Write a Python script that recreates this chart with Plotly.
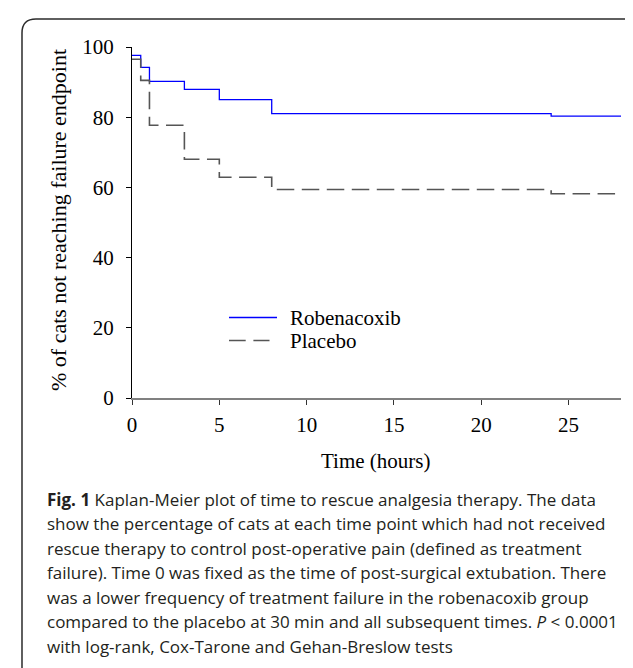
import plotly.graph_objects as go

# ---- data ----
time_h = [0, 0.5, 1, 3, 5, 8, 24, 28]
robenacoxib = [97.6, 94.2, 90.2, 87.9, 85.0, 81.0, 80.3, 80.3]
placebo = [96.5, 90.5, 77.7, 68.0, 62.9, 59.4, 58.2, 58.2]
x_ticks = [0, 5, 10, 15, 20, 25]
y_ticks = [0, 20, 40, 60, 80, 100]
series_names = ["Robenacoxib", "Placebo"]

caption_lines = [
    "<b>Fig. 1</b> Kaplan-Meier plot of time to rescue analgesia therapy. The data",
    "show the percentage of cats at each time point which had not received",
    "rescue therapy to control post-operative pain (defined as treatment",
    "failure). Time 0 was fixed as the time of post-surgical extubation. There",
    "was a lower frequency of treatment failure in the robenacoxib group",
    "compared to the placebo at 30 min and all subsequent times. <i>P</i> < 0.0001",
    "with log-rank, Cox-Tarone and Gehan-Breslow tests",
]

# ---- layout geometry (pixels) ----
WIDTH, HEIGHT = 633, 668
L, R, T, B = 124, 613, 39, 390
PW, PH = R - L, B - T


def px2x(px):
    return (px - L) / PW


def py2y(py):
    return (B - py) / PH


SERIF = "Liberation Serif, Times New Roman, serif"
SANS = "Open Sans, Noto Sans, sans-serif"

fig = go.Figure()
fig.add_trace(go.Scatter(
    x=time_h, y=robenacoxib, mode="lines", line_shape="hv",
    line=dict(color="#0000FF", width=1.3), name=series_names[0],
    showlegend=False,
))
fig.add_trace(go.Scatter(
    x=time_h, y=placebo, mode="lines", line_shape="hv",
    line=dict(color="#555555", width=1.6, dash="17.5px,7.5px"),
    name=series_names[1], showlegend=False,
))

# ---- frame (rounded box) ----
x0, y0, x1, y1, r = 14, 11, 645, 674, 14
pts = [
    ("M", x0 + r, y0), ("L", x1 - r, y0), ("Q", x1, y0, x1, y0 + r),
    ("L", x1, y1 - r), ("Q", x1, y1, x1 - r, y1), ("L", x0 + r, y1),
    ("Q", x0, y1, x0, y1 - r), ("L", x0, y0 + r), ("Q", x0, y0, x0 + r, y0),
]
path = ""
for p in pts:
    cmd = p[0]
    coords = p[1:]
    parts = []
    for i in range(0, len(coords), 2):
        parts.append(f"{px2x(coords[i]):.5f},{py2y(coords[i+1]):.5f}")
    path += cmd + " ".join(parts) + " "
path += "Z"

shapes = [dict(type="path", path=path, xref="paper", yref="paper",
               line=dict(color="#2b2b2b", width=1.5), layer="below")]

# ---- legend drawn manually ----
leg_x0, leg_x1 = 221, 269
shapes.append(dict(type="line", xref="paper", yref="paper",
                   x0=px2x(leg_x0), x1=px2x(leg_x1), y0=py2y(309.5), y1=py2y(309.5),
                   line=dict(color="#0000FF", width=1.3)))
shapes.append(dict(type="line", xref="paper", yref="paper",
                   x0=px2x(leg_x0), x1=px2x(leg_x0 + 40.5), y0=py2y(332.5), y1=py2y(332.5),
                   line=dict(color="#555555", width=1.6, dash="16.7px,7.7px")))

annotations = [
    dict(text=series_names[0], x=px2x(280), y=py2y(310), xref="paper", yref="paper",
         xanchor="left", yanchor="middle", showarrow=False,
         font=dict(family=SERIF, size=21, color="black")),
    dict(text=series_names[1], x=px2x(280), y=py2y(333), xref="paper", yref="paper",
         xanchor="left", yanchor="middle", showarrow=False,
         font=dict(family=SERIF, size=21, color="black")),
    dict(text="Time (hours)", x=px2x(367), y=py2y(453), xref="paper", yref="paper",
         xanchor="center", yanchor="middle", showarrow=False,
         font=dict(family=SERIF, size=21, color="black")),
    dict(text="% of cats not reaching failure endpoint", x=px2x(51), y=py2y(212),
         xref="paper", yref="paper", xanchor="center", yanchor="middle",
         showarrow=False, textangle=-90,
         font=dict(family=SERIF, size=22, color="black")),
]

cap_y0, cap_dy = 491, 24.5
for i, line in enumerate(caption_lines):
    annotations.append(dict(
        text=line, x=px2x(37), y=py2y(cap_y0 + i * cap_dy), xref="paper", yref="paper",
        xanchor="left", yanchor="middle", showarrow=False,
        font=dict(family=SANS, size=17, color="#231f20"),
    ))

fig.update_layout(
    width=WIDTH, height=HEIGHT,
    margin=dict(l=L, r=WIDTH - R, t=T, b=HEIGHT - B, pad=0),
    paper_bgcolor="white", plot_bgcolor="white",
    shapes=shapes, annotations=annotations, showlegend=False,
    xaxis=dict(range=[0, 28], tickvals=x_ticks, ticktext=[str(v) for v in x_ticks],
               showgrid=False, zeroline=False, showline=True, linecolor="#808080",
               linewidth=2, ticks="outside", ticklen=5, tickcolor="#333333", tickwidth=1,
               tickfont=dict(family=SERIF, size=21, color="black"),
               ticklabelstandoff=2),
    yaxis=dict(range=[0, 100], tickvals=y_ticks, ticktext=[str(v) for v in y_ticks],
               showgrid=False, zeroline=False, showline=True, linecolor="black",
               linewidth=1, ticks="outside", ticklen=5, tickcolor="black", tickwidth=1,
               tickfont=dict(family=SERIF, size=21, color="black"),
               ticklabelstandoff=8),
)

fig.write_html("out.html")
